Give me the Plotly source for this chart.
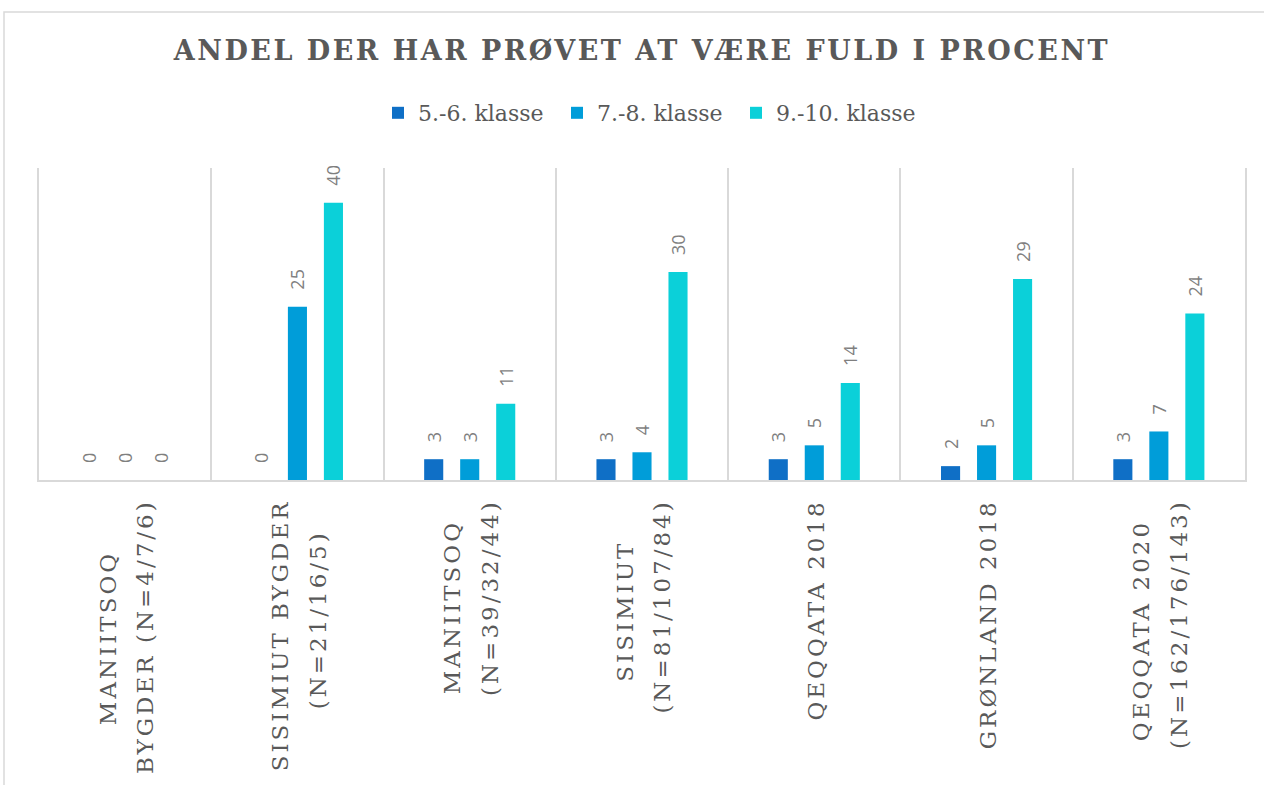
import plotly.graph_objects as go

categories = [
    "MANIITSOQ<br>BYGDER (N=4/7/6)",
    "SISIMIUT BYGDER<br>(N=21/16/5)",
    "MANIITSOQ<br>(N=39/32/44)",
    "SISIMIUT<br>(N=81/107/84)",
    "QEQQATA 2018",
    "GRØNLAND 2018",
    "QEQQATA 2020<br>(N=162/176/143)",
]
series_names = ["5.-6. klasse", "7.-8. klasse", "9.-10. klasse"]
values_5_6 = [0, 0, 3, 3, 3, 2, 3]
values_7_8 = [0, 25, 3, 4, 5, 5, 7]
values_9_10 = [0, 40, 11, 30, 14, 29, 24]
colors = ["#0F6FC6", "#009DD9", "#0BD0D9"]
title_text = "ANDEL DER HAR PRØVET AT VÆRE FULD I PROCENT"

W, H = 1264, 785
ML, MR, MT, MB = 39, 19, 168, 305
PW, PH = W - ML - MR, H - MT - MB
LABEL_PX = 23


def tick_label(cat):
    """Centre the lines of a wrapped label (rotated text is end-anchored)."""
    lines = cat.split("<br>")
    longest = max(len(l) for l in lines)
    out = []
    for l in lines:
        pad = round((longest - len(l)) * 0.75)
        out.append(f"<span style='font-size:{LABEL_PX}px'>{l}{chr(160) * pad}</span>")
    return "<br>".join(out)


fig = go.Figure()
for name, vals, col in zip(series_names, [values_5_6, values_7_8, values_9_10], colors):
    fig.add_bar(
        x=categories, y=vals, name=name,
        marker=dict(color=col, line=dict(width=0)),
        texttemplate="\u00a0\u00a0\u00a0%{y}",
        textposition="outside", textangle=-90,
        textfont=dict(family="Open Sans", size=18, color="#7F7F7F"),
        cliponaxis=False, constraintext="none",
        hoverinfo="y+name",
    )

fig.update_layout(
    width=W, height=H,
    margin=dict(l=ML, r=MR, t=MT, b=MB, autoexpand=False),
    paper_bgcolor="white", plot_bgcolor="white",
    barmode="group", bargap=0.373, bargroupgap=0.47,
    title=dict(
        text="<b>" + title_text + "</b>",
        font=dict(family="DejaVu Serif", size=27, color="#595959"),
        xref="container", x=642 / W, xanchor="center",
        yref="container", y=1 - 51 / H, yanchor="middle",
    ),
    legend=dict(
        orientation="h", x=(378 - ML) / PW, xanchor="left",
        y=(PH + MT - 113) / PH, yanchor="middle",
        font=dict(family="DejaVu Serif", size=22, color="#595959"),
        bgcolor="rgba(0,0,0,0)", itemwidth=30,
        entrywidth=134, entrywidthmode="pixels",
    ),
    xaxis=dict(
        type="category", tickson="boundaries", showgrid=True,
        gridcolor="#D9D9D9", gridwidth=1.5,
        showline=True, linecolor="#D9D9D9", linewidth=1.5,
        ticks="", tickangle=-90, automargin=False,
        tickmode="array", tickvals=categories,
        ticktext=[tick_label(c) for c in categories],
        ticklabelstandoff=6,
        tickfont=dict(family="DejaVu Serif", size=29, color="#595959"),
    ),
    yaxis=dict(
        range=[0, 45], showgrid=False, zeroline=False, showticklabels=False,
        showline=True, linecolor="#D9D9D9", linewidth=1.5, mirror=True, ticks="",
    ),
    shapes=[dict(
        type="rect", xref="paper", yref="paper",
        x0=(4 - ML) / PW, x1=(W + 10 - ML) / PW,
        y0=(PH + MT - (H + 10)) / PH, y1=(PH + MT - 12) / PH,
        line=dict(color="#D9D9D9", width=1.5), fillcolor="rgba(0,0,0,0)", layer="below",
    )],
)

post = """
document.body.style.margin='0';
var s=document.createElement('style');
s.textContent='.gtitle{letter-spacing:2.5px} .xtick text{letter-spacing:3px}';
document.head.appendChild(s);
"""
fig.write_html("out.html", post_script=post, config={"displayModeBar": False})
